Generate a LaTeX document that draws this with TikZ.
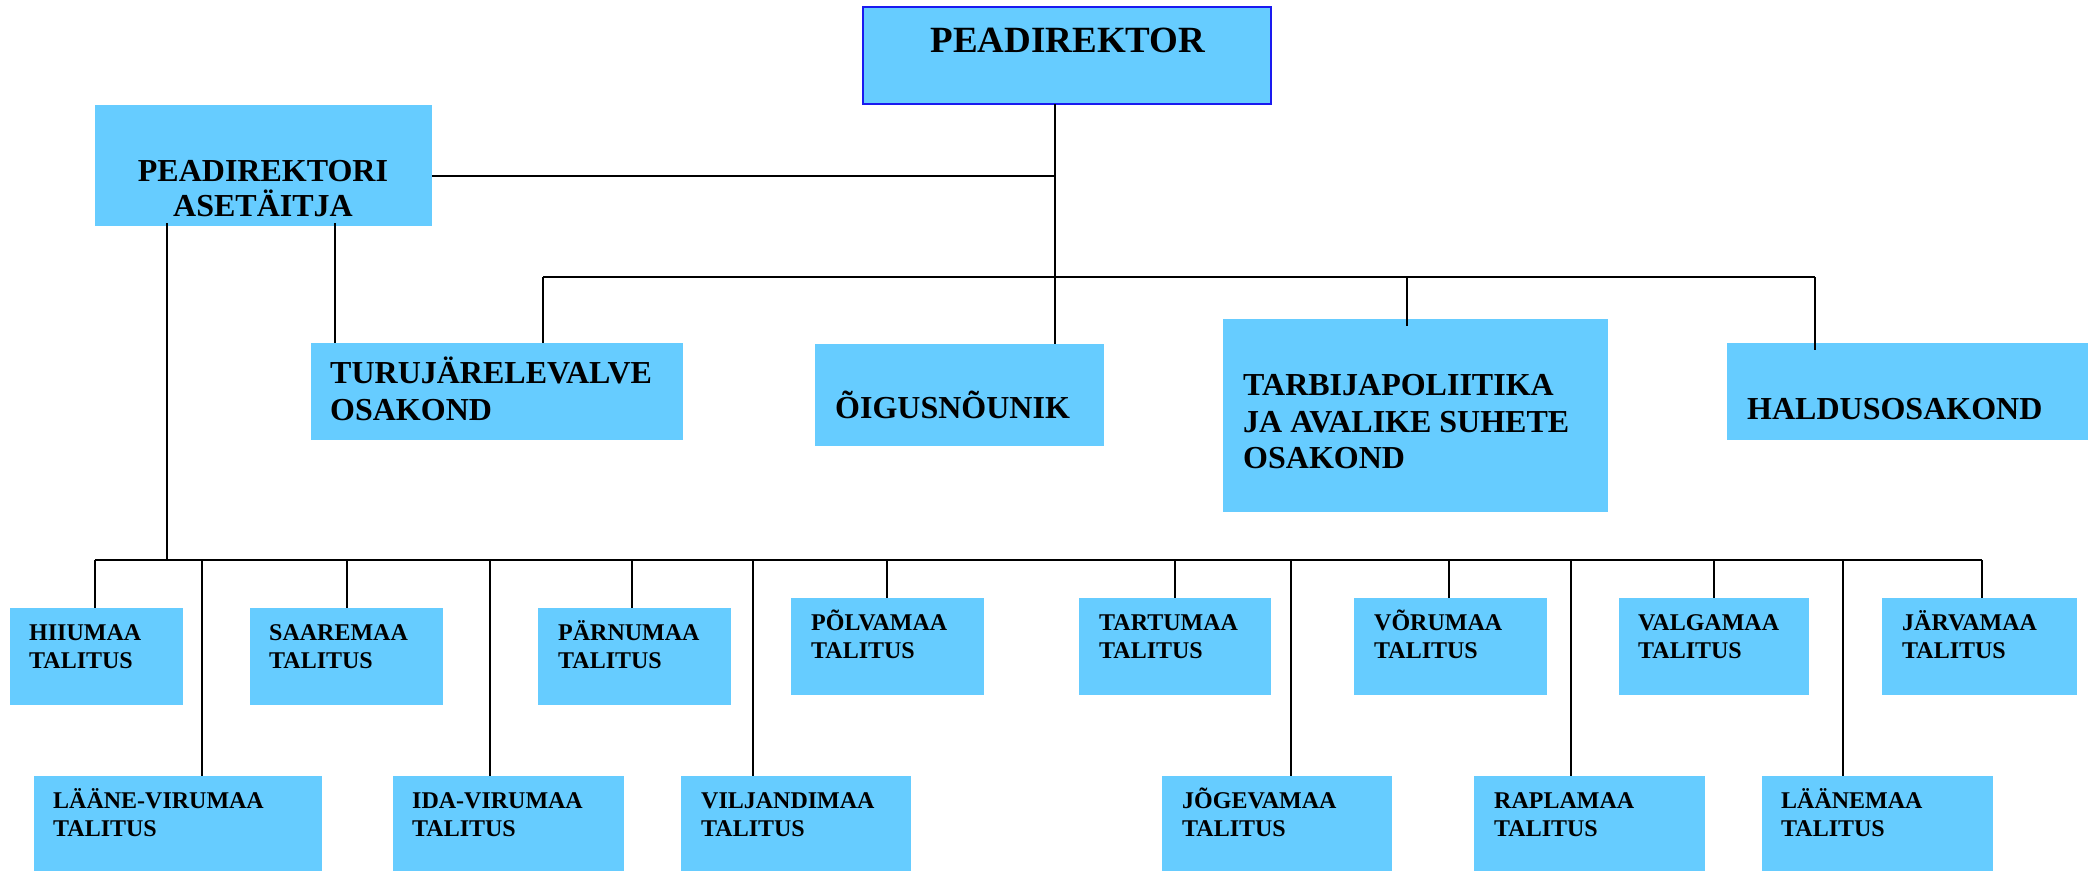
\documentclass[tikz,border=0pt]{standalone}
\usepackage{fontspec}
\setmainfont{Liberation Serif}
\definecolor{boxblue}{HTML}{66CCFF}
\definecolor{edgeblue}{HTML}{1A1AF0}
\tikzset{
  x=1pt, y=-1pt,
  box/.style={rectangle, fill=boxblue, inner sep=0pt, outer sep=0pt},
  small/.style={anchor=base west, inner sep=0pt, font=\bfseries\fontsize{24}{28}\selectfont},
  big/.style={anchor=base west, inner sep=0pt, font=\bfseries\fontsize{32}{37}\selectfont},
  conn/.style={line width=2pt},
  bus/.style={line width=2.6pt},
  longconn/.style={line width=1.6pt}
}
\newcommand\obox[6][]{\node[box,#1,minimum width=#5-#3,minimum height=#6-#4] (#2) at ({(#3+#5)/2},{(#4+#6)/2}) {};}
\newcommand\twolab[6]{\node[small] (#1a) at (#2,#3) {#5};\node[small] (#1b) at (#2,#4) {#6};}
\begin{document}
\begin{tikzpicture}
\useasboundingbox (0,0) rectangle (2096,871);
% boxes
\obox[draw=edgeblue,line width=2pt]{pd}{863}{7}{1271}{104}
\obox{asp}{95}{105}{432}{226}
\obox{tur}{311}{343}{683}{440}
\obox{oig}{815}{344}{1104}{446}
\obox{tarb}{1223}{319}{1608}{512}
\obox{hald}{1727}{343}{2088}{440}
\obox{hiiu}{10}{608}{183}{705}
\obox{saar}{250}{608}{443}{705}
\obox{parn}{538}{608}{731}{705}
\obox{polv}{791}{598}{984}{695}
\obox{tart}{1079}{598}{1271}{695}
\obox{voru}{1354}{598}{1547}{695}
\obox{valg}{1619}{598}{1809}{695}
\obox{jarv}{1882}{598}{2077}{695}
\obox{lvir}{34}{776}{322}{871}
\obox{ivir}{393}{776}{624}{871}
\obox{vilj}{681}{776}{911}{871}
\obox{joge}{1162}{776}{1392}{871}
\obox{rapl}{1474}{776}{1705}{871}
\obox{laan}{1762}{776}{1993}{871}
% junction coordinates
\coordinate (trunk) at (1055,176);
\coordinate (b1w) at (543,277);
\coordinate (b1m) at (1407,277);
\coordinate (b1e) at (1815,277);
\coordinate (a1) at (167,226);
\coordinate (a2) at (335,226);
\coordinate (b2w) at (95,560);
\coordinate (b2e) at (1982,560);
% upper connectors
\draw[conn] (pd.south -| trunk) -- (oig.north -| trunk);
\draw[bus] (asp.east |- trunk) -- (trunk);
\draw[bus] (b1w) -- (b1e);
\draw[conn] (b1w) -- (tur.north -| b1w);
\draw[conn] (b1m) -- ([yshift=-7pt]tarb.north -| b1m);
\draw[conn] (b1e) -- ([yshift=-7pt]hald.north -| b1e);
\draw[conn] ([yshift=3pt]a2) -- (tur.north -| a2);
\draw[conn] ([yshift=3pt]a1) -- (b2w -| a1);
% lower bus
\draw[bus] (b2w) -- (b2e);
\foreach \x/\n in {95/hiiu,347/saar,632/parn,887/polv,1175/tart,1449/voru,1714/valg}{
  \coordinate (d\n) at (\x,560);
  \draw[conn] (d\n) -- (\n.north -| d\n);
}
\draw[bus] (b2e) -- (jarv.north -| b2e);
\foreach \x/\n in {202/lvir,490/ivir,753/vilj,1291/joge,1571/rapl,1843/laan}{
  \coordinate (d\n) at (\x,560);
  \draw[longconn] (d\n) -- (\n.north -| d\n);
}
% texts
\node[anchor=base, inner sep=0pt, font=\bfseries\fontsize{37}{42}\selectfont] (tpd) at (1068,52) {PEADIREKTOR};
\node[big,anchor=base] (tasp1) at (263,181) {PEADIREKTORI};
\node[big,anchor=base] (tasp2) at (263,216) {ASETÄITJA};
\node[big] (ttur1) at (330,383) {TURUJÄRELEVALVE};
\node[big] (ttur2) at (330,420) {OSAKOND};
\node[big] (toig) at (835,418) {ÕIGUSNÕUNIK};
\node[big] (ttarb1) at (1243,395) {TARBIJAPOLIITIKA};
\node[big] (ttarb2) at (1243,432) {JA AVALIKE SUHETE};
\node[big] (ttarb3) at (1243,468) {OSAKOND};
\node[big] (thald) at (1747,419) {HALDUSOSAKOND};
\twolab{thiiu}{29}{640}{668}{HIIUMAA}{TALITUS}
\twolab{tsaar}{269}{640}{668}{SAAREMAA}{TALITUS}
\twolab{tparn}{558}{640}{668}{PÄRNUMAA}{TALITUS}
\twolab{tpolv}{811}{630}{658}{PÕLVAMAA}{TALITUS}
\twolab{ttart}{1099}{630}{658}{TARTUMAA}{TALITUS}
\twolab{tvoru}{1374}{630}{658}{VÕRUMAA}{TALITUS}
\twolab{tvalg}{1638}{630}{658}{VALGAMAA}{TALITUS}
\twolab{tjarv}{1902}{630}{658}{JÄRVAMAA}{TALITUS}
\twolab{tlvir}{53}{808}{836}{LÄÄNE-VIRUMAA}{TALITUS}
\twolab{tivir}{412}{808}{836}{IDA-VIRUMAA}{TALITUS}
\twolab{tvilj}{701}{808}{836}{VILJANDIMAA}{TALITUS}
\twolab{tjoge}{1182}{808}{836}{JÕGEVAMAA}{TALITUS}
\twolab{trapl}{1494}{808}{836}{RAPLAMAA}{TALITUS}
\twolab{tlaan}{1781}{808}{836}{LÄÄNEMAA}{TALITUS}
\end{tikzpicture}
\end{document}
